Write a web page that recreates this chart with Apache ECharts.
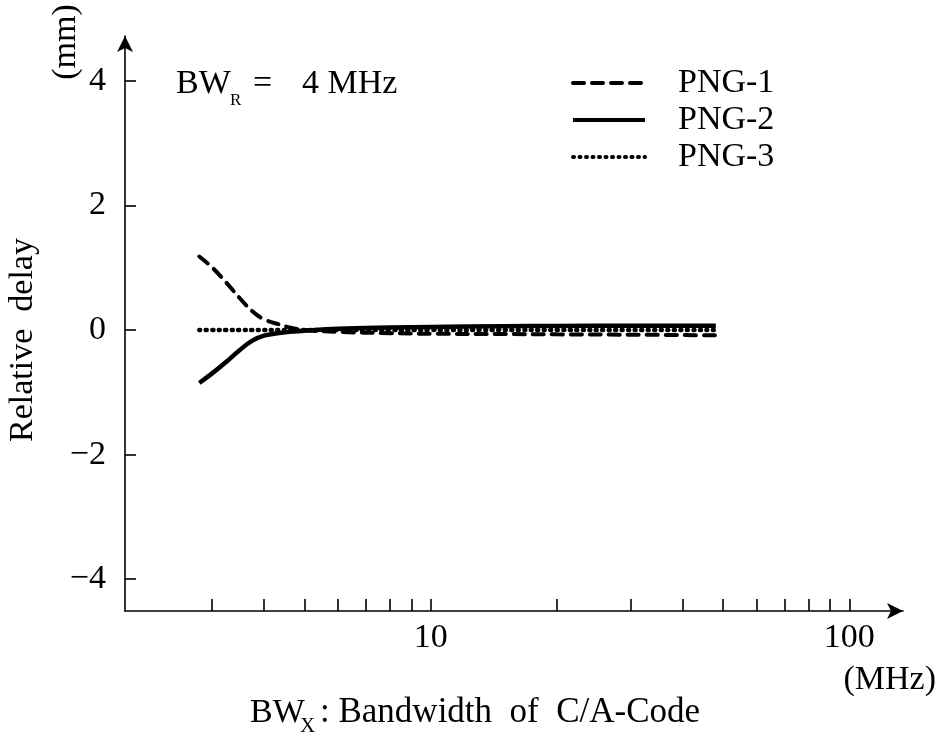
<!DOCTYPE html>
<html>
<head>
<meta charset="utf-8">
<script src="https://cdn.jsdelivr.net/npm/echarts@6/dist/echarts.min.js"></script>
<style>
  html, body { margin: 0; padding: 0; background: #fff; }
  #chart { width: 941px; height: 736px; }
</style>
</head>
<body>
<div id="chart"></div>
<script>
// Bandwidth of the C/A code receiver (MHz), log scale
const bandwidth = [2.8, 3.0, 3.25, 3.5, 3.75, 4.0, 4.4, 4.6, 5.0, 6.0, 8.0, 10, 15, 20, 30, 48];
// Relative delay (mm) for each pseudo-noise generator
const png1 = [1.18, 1.01, 0.76, 0.51, 0.30, 0.17, 0.08, 0.04, 0.0, -0.03, -0.05, -0.06, -0.065, -0.07, -0.075, -0.085];
const png2 = [-0.85, -0.70, -0.51, -0.32, -0.17, -0.09, -0.045, -0.03, -0.01, 0.02, 0.04, 0.05, 0.06, 0.065, 0.07, 0.07];
const png3 = [0, 0, 0, 0, 0, 0, 0, 0, 0, 0, 0, 0, 0, 0, 0, 0];

const seriesNames = ['PNG-1', 'PNG-2', 'PNG-3'];
const xTickValues = [3, 4, 5, 6, 7, 8, 9, 10, 20, 30, 40, 50, 60, 70, 80, 90, 100];
const xLabelValues = [10, 100];
const yTickValues = [-4, -2, 0, 2, 4];

const FONT = '"Liberation Serif", "DejaVu Serif", serif';
const FS = 34;

const pairs = (ys) => bandwidth.map((x, i) => [x, ys[i]]);

const chart = echarts.init(document.getElementById('chart'), null, { renderer: 'canvas' });

chart.setOption({
  animation: false,
  backgroundColor: '#fff',
  textStyle: { fontFamily: FONT, color: '#000' },
  grid: { left: 125, top: 36, width: 778, height: 575 },
  legend: {
    orient: 'vertical',
    left: 571,
    top: 66,
    padding: 0,
    itemWidth: 72,
    itemHeight: 20,
    itemGap: 3,
    data: seriesNames,
    itemStyle: { opacity: 0 },
    lineStyle: { width: 4 },
    textStyle: { fontFamily: FONT, fontSize: FS, color: '#000', padding: [0, 0, 0, 28] },
    inactiveColor: '#000'
  },
  xAxis: {
    type: 'log',
    logBase: 10,
    min: 1.861,
    max: 134.4,
    splitLine: { show: false },
    axisLine: {
      onZero: false,
      symbol: ['none', 'arrow'],
      symbolSize: [12, 16],
      lineStyle: { color: '#000', width: 1.6 }
    },
    axisTick: {
      inside: true,
      length: 12,
      customValues: xTickValues,
      lineStyle: { color: '#000', width: 1.6 }
    },
    axisLabel: {
      customValues: xLabelValues,
      margin: 10,
      fontFamily: FONT,
      fontSize: FS,
      color: '#000'
    }
  },
  yAxis: {
    type: 'value',
    min: -4.51,
    max: 4.719,
    splitLine: { show: false },
    axisLine: {
      onZero: false,
      symbol: ['none', 'arrow'],
      symbolSize: [12, 16],
      lineStyle: { color: '#000', width: 1.6 }
    },
    axisTick: {
      inside: true,
      length: 11,
      customValues: yTickValues,
      lineStyle: { color: '#000', width: 1.6 }
    },
    axisLabel: {
      customValues: yTickValues,
      margin: 19,
      fontFamily: FONT,
      fontSize: FS,
      color: '#000',
      formatter: (v) => (v < 0 ? '\u2212' + Math.abs(v) : String(v))
    }
  },
  series: [
    {
      name: 'PNG-3',
      type: 'line',
      smooth: 0.4,
      showSymbol: false,
      symbol: 'none',
      z: 1,
      data: pairs(png3),
      lineStyle: { color: '#000', width: 4.5, type: [1, 5.5], cap: 'round' },
      itemStyle: { color: '#000' }
    },
    {
      name: 'PNG-1',
      type: 'line',
      smooth: 0.4,
      showSymbol: false,
      symbol: 'none',
      z: 3,
      data: pairs(png1),
      lineStyle: { color: '#000', width: 4, type: [11, 8], cap: 'round' },
      itemStyle: { color: '#000' }
    },
    {
      name: 'PNG-2',
      type: 'line',
      smooth: 0.4,
      showSymbol: false,
      symbol: 'none',
      z: 2,
      data: pairs(png2),
      lineStyle: { color: '#000', width: 4.5, type: 'solid' },
      itemStyle: { color: '#000' }
    }
  ],
  graphic: [
    // Receiver bandwidth annotation
    { type: 'text', x: 176, y: 84, style: { text: 'BW', font: FS + 'px ' + FONT, fill: '#000', verticalAlign: 'middle' } },
    { type: 'text', x: 230, y: 101, style: { text: 'R', font: '17px ' + FONT, fill: '#000', verticalAlign: 'middle' } },
    { type: 'text', x: 253, y: 84, style: { text: '=', font: FS + 'px ' + FONT, fill: '#000', verticalAlign: 'middle' } },
    { type: 'text', x: 302, y: 84, style: { text: '4 MHz', font: FS + 'px ' + FONT, fill: '#000', verticalAlign: 'middle' } },
    // Y axis title and unit (rotated)
    {
      type: 'text', x: 23, y: 340, rotation: Math.PI / 2,
      style: { text: 'Relative  delay', font: FS + 'px ' + FONT, fill: '#000', align: 'center', verticalAlign: 'middle' }
    },
    {
      type: 'text', x: 66, y: 42, rotation: Math.PI / 2,
      style: { text: '(mm)', font: FS + 'px ' + FONT, fill: '#000', align: 'center', verticalAlign: 'middle' }
    },
    // X axis unit and title
    { type: 'text', x: 936, y: 680, style: { text: '(MHz)', font: FS + 'px ' + FONT, fill: '#000', align: 'right', verticalAlign: 'middle' } },
    { type: 'text', x: 250, y: 713, style: { text: 'BW', font: FS + 'px ' + FONT, fill: '#000', align: 'left', verticalAlign: 'middle' } },
    { type: 'text', x: 300, y: 726, style: { text: 'X', font: '21px ' + FONT, fill: '#000', align: 'left', verticalAlign: 'middle' } },
    { type: 'text', x: 320, y: 713, style: { text: ': Bandwidth  of  C/A-Code', font: '35px ' + FONT, fill: '#000', align: 'left', verticalAlign: 'middle' } }
  ]
});
</script>
</body>
</html>
